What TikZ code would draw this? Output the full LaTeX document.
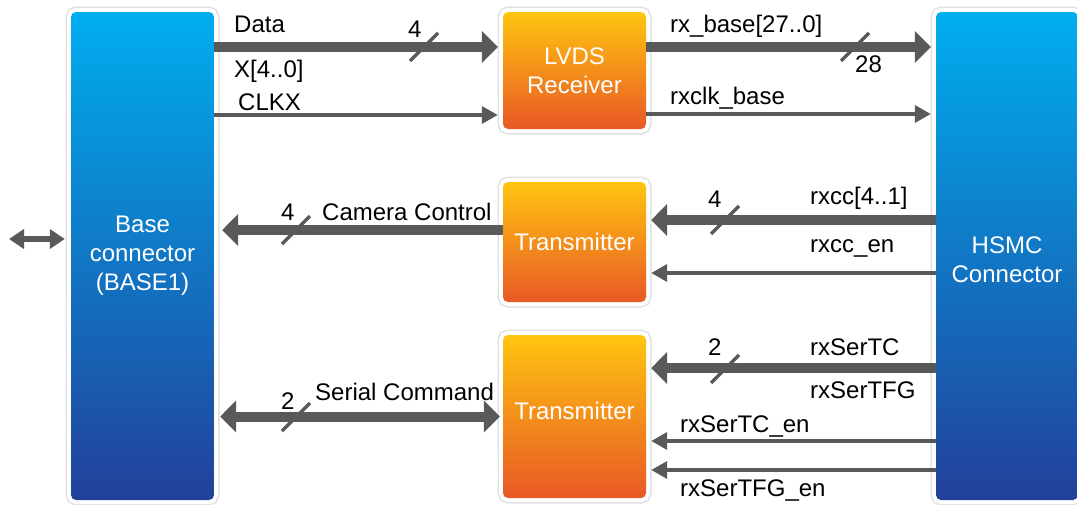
\documentclass[tikz,border=0pt]{standalone}
\usepackage{fontspec}
\setmainfont{Liberation Sans}
\usetikzlibrary{arrows.meta,calc}
\definecolor{arr}{RGB}{88,89,91}
\definecolor{bTop}{RGB}{0,174,239}
\definecolor{bMid}{RGB}{0,114,188}
\definecolor{bBot}{RGB}{34,64,154}
\definecolor{oTop}{RGB}{255,197,16}
\definecolor{oMid}{RGB}{243,142,34}
\definecolor{oBot}{RGB}{232,88,38}
\begin{document}
\begin{tikzpicture}[x=1pt,y=-1pt,
  box/.style={rounded corners=5pt, text=white, align=center, inner sep=0pt,
    font=\fontsize{24}{29}\selectfont,
    preaction={draw=black!12, line width=11pt},
    preaction={draw=white, line width=8pt}},
  bluebox/.style={box, top color=bTop, middle color=bMid, bottom color=bBot},
  orangebox/.style={box, top color=oTop, middle color=oMid, bottom color=oBot,
    minimum width=143pt},
  bus/.style={draw=arr, line width=10pt, -{Triangle[length=16pt,width=31pt]}, shorten >=5pt},
  sig/.style={draw=arr, line width=3.5pt, -{Triangle[length=16pt,width=17pt]}, shorten >=5pt},
  dbus/.style={draw=arr, line width=10pt, {Triangle[length=16pt,width=31pt]}-{Triangle[length=16pt,width=31pt]}, shorten >=3pt, shorten <=6pt},
  dsig/.style={draw=arr, line width=6pt, {Triangle[length=15pt,width=19pt]}-{Triangle[length=15pt,width=19pt]}, shorten >=6pt},
  slash/.style={draw=arr, line width=3.5pt},
  lbl/.style={anchor=base west, inner sep=0pt, font=\fontsize{24}{29}\selectfont}
]
\useasboundingbox (0,0) rectangle (1077,504);
% boxes
\node[bluebox, minimum width=143pt, minimum height=488pt] (base) at (142.5,256) {Base\\connector\\(BASE1)};
\node[bluebox, minimum width=142pt, minimum height=488pt, text height=53.5pt] (hsmc) at (1007,256) {HSMC\\Connector};
\node[orangebox, minimum height=117pt] (lvds) at (574.5,70.5) {LVDS\\Receiver};
\node[orangebox, minimum height=120pt] (tx1) at (574.5,242) {Transmitter};
\node[orangebox, minimum height=163pt, text depth=11pt] (tx2) at (574.5,416.5) {Transmitter};

% connectors
\coordinate (dIn) at ($(lvds.west)+(0,-23.5)$);
\draw[bus] (base.east |- dIn) -- (dIn);
\coordinate (cIn) at ($(lvds.west)+(0,44.5)$);
\draw[sig] (base.east |- cIn) -- (cIn);
\coordinate (rbOut) at ($(lvds.east)+(0,-23.5)$);
\draw[bus] (rbOut) -- (hsmc.west |- rbOut);
\coordinate (rcOut) at ($(lvds.east)+(0,43.5)$);
\draw[sig] (rcOut) -- (hsmc.west |- rcOut);

\coordinate (ccOut) at ($(tx1.west)+(0,-12)$);
\draw[bus, shorten >=8pt] (ccOut) -- (base.east |- ccOut);
\coordinate (r1In) at ($(tx1.east)+(0,-22)$);
\draw[bus] (hsmc.west |- r1In) -- (r1In);
\coordinate (r2In) at ($(tx1.east)+(0,31)$);
\draw[sig] (hsmc.west |- r2In) -- (r2In);

\draw[dbus] (base.east |- tx2.west) -- (tx2.west);
\coordinate (s1In) at ($(tx2.east)+(0,-48.5)$);
\draw[bus] (hsmc.west |- s1In) -- (s1In);
\coordinate (s2In) at ($(tx2.east)+(0,24.5)$);
\draw[sig] (hsmc.west |- s2In) -- (s2In);
\coordinate (s3In) at ($(tx2.east)+(0,53.5)$);
\draw[sig] (hsmc.west |- s3In) -- (s3In);

\coordinate (ext) at (9,239);
\draw[dsig] (ext) -- (base.west |- ext);

% bus width slashes
\coordinate (k1) at (424,47);
\coordinate (k2) at (855,47);
\coordinate (k3) at (296,230);
\coordinate (k4) at (725,220);
\coordinate (k5) at (296,417);
\coordinate (k6) at (725,369);
\foreach \k in {k1,k2,k3,k4,k5,k6}
  \draw[slash] ($(\k)+(-14,14)$) -- ($(\k)+(14,-14)$);

% labels
\node[lbl] (tData) at (234,32) {Data};
\node[lbl] (tX) at (234,77) {X[4..0]};
\node[lbl] (tClk) at (238,110) {CLKX};
\node[lbl] (n1) at (408,37) {4};
\node[lbl] (tRb) at (670,32) {rx\_base[27..0]};
\node[lbl] (n2) at (855,72) {28};
\node[lbl] (tRc) at (670,104) {rxclk\_base};
\node[lbl] (n3) at (281,220) {4};
\node[lbl] (tCam) at (322,220) {Camera Control};
\node[lbl] (n4) at (708,207) {4};
\node[lbl] (tRxcc) at (810,204) {rxcc[4..1]};
\node[lbl] (tRxen) at (810,252) {rxcc\_en};
\node[lbl] (n5) at (281,409) {2};
\node[lbl] (tSer) at (315,400) {Serial Command};
\node[lbl] (n6) at (708,355) {2};
\node[lbl] (tTC) at (810,355) {rxSerTC};
\node[lbl] (tTFG) at (810,398) {rxSerTFG};
\node[lbl] (tTCen) at (680,432) {rxSerTC\_en};
\node[lbl] (tTFGen) at (680,496) {rxSerTFG\_en};
\end{tikzpicture}
\end{document}
